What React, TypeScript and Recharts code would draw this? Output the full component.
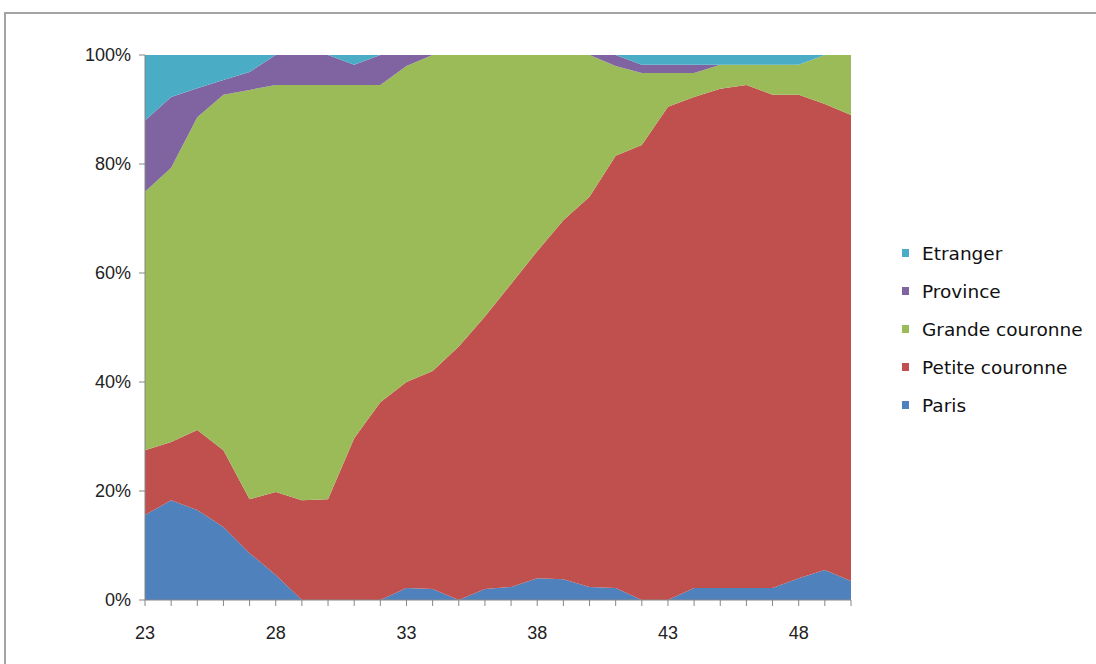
import { AreaChart, Area, XAxis, YAxis, Legend } from 'recharts';

// age (years) on the x axis
const ages = [23, 24, 25, 26, 27, 28, 29, 30, 31, 32, 33, 34, 35, 36, 37, 38, 39, 40, 41, 42, 43, 44, 45, 46, 47, 48, 49, 50];
const labeledAges = [23, 28, 33, 38, 43, 48];
const yTicks = [0, 0.2, 0.4, 0.6, 0.8, 1];

// shares in %, bottom to top
const paris = [15.6, 18.3, 16.5, 13.4, 8.6, 4.6, 0, 0, 0, 0, 2.2, 2, 0, 2, 2.4, 4, 3.8, 2.4, 2.2, 0, 0, 2.2, 2.2, 2.2, 2.2, 4, 5.5, 3.5];
const petiteCouronne = [11.9, 10.7, 14.7, 14.1, 9.9, 15.2, 18.3, 18.5, 29.7, 36.3, 37.8, 40, 46.5, 50, 55.6, 60, 65.9, 71.6, 79.3, 83.5, 90.5, 90.1, 91.6, 92.3, 90.5, 88.7, 85.5, 85.5];
const grandeCouronne = [47.4, 50.3, 57.4, 65.2, 75.1, 74.7, 76.2, 76, 64.8, 58.2, 58, 58, 53.5, 48, 42, 36, 30.3, 26, 16.5, 13.2, 6.2, 4.4, 4.4, 3.7, 5.5, 5.5, 9, 11];
const province = [13.1, 13, 5.3, 2.7, 3.3, 5.5, 5.5, 5.5, 3.7, 5.5, 2, 0, 0, 0, 0, 0, 0, 0, 2, 1.5, 1.5, 1.5, 0, 0, 0, 0, 0, 0];
const etranger = [12, 7.7, 6.1, 4.6, 3.1, 0, 0, 0, 1.8, 0, 0, 0, 0, 0, 0, 0, 0, 0, 0, 1.8, 1.8, 1.8, 1.8, 1.8, 1.8, 1.8, 0, 0];

const series = [
  { key: 'Paris', color: '#4f81bd' },
  { key: 'Petite couronne', color: '#c0504d' },
  { key: 'Grande couronne', color: '#9bbb59' },
  { key: 'Province', color: '#8064a2' },
  { key: 'Etranger', color: '#4bacc6' },
];

const data = ages.map((age, i) => ({
  age,
  Paris: paris[i],
  'Petite couronne': petiteCouronne[i],
  'Grande couronne': grandeCouronne[i],
  Province: province[i],
  Etranger: etranger[i],
}));

const axisColor = '#868686';
const font = '"Liberation Sans", Arial, sans-serif';

function AgeTick(props: any) {
  const { x, y, payload } = props;
  if (!labeledAges.includes(payload.value)) return null;
  return (
    <text x={x} y={y} dy={31} textAnchor="middle" fill="#222" fontSize={18} fontFamily={font}>
      {payload.value}
    </text>
  );
}

function LegendBox() {
  // Excel lists the legend top-down in reverse stacking order
  const items = [...series].reverse();
  return (
    <div style={{ fontFamily: '"DejaVu Sans", sans-serif', fontSize: 18.5, color: '#111' }}>
      {items.map((s) => (
        <div key={s.key} style={{ display: 'flex', alignItems: 'center', height: 38 }}>
          <span style={{ width: 7, height: 8, backgroundColor: s.color, display: 'inline-block', marginRight: 13 }} />
          <span>{s.key}</span>
        </div>
      ))}
    </div>
  );
}

export default function App() {
  return (
    <div style={{ position: 'absolute', left: 0, top: 0, width: 1096, height: 664, overflow: 'hidden', background: '#fff' }}>
      {/* chart frame, runs off the right and bottom edge */}
      <div
        style={{
          position: 'absolute',
          left: 4,
          top: 12,
          width: 1200,
          height: 800,
          border: '2px solid #a3a3a3',
        }}
      />
      <div style={{ position: 'absolute', left: 0, top: 0 }}>
        <AreaChart
          width={1096}
          height={664}
          data={data}
          stackOffset="expand"
          margin={{ top: 55, right: 245, left: 85, bottom: 24 }}
        >
          <XAxis
            dataKey="age"
            type="number"
            domain={[23, 50]}
            ticks={ages}
            interval={0}
            tick={<AgeTick />}
            tickSize={6}
            tickMargin={2}
            height={40}
            stroke={axisColor}
            axisLine={{ stroke: axisColor }}
            tickLine={{ stroke: axisColor }}
          />
          <YAxis
            domain={[0, 1]}
            ticks={yTicks}
            width={60}
            tickSize={6}
            tickMargin={8}
            tickFormatter={(v: number) => `${Math.round(v * 100)}%`}
            tick={{ fill: '#222', fontSize: 18, fontFamily: font }}
            axisLine={{ stroke: axisColor }}
            tickLine={{ stroke: axisColor }}
          />
          <Legend
            layout="vertical"
            align="center"
            verticalAlign="middle"
            content={<LegendBox />}
            wrapperStyle={{ left: 902, top: 234, width: 192 }}
          />
          {series.map((s) => (
            <Area
              key={s.key}
              type="linear"
              dataKey={s.key}
              stackId="1"
              stroke="none"
              fill={s.color}
              fillOpacity={1}
              dot={false}
              activeDot={false}
              isAnimationActive={false}
            />
          ))}
        </AreaChart>
      </div>
    </div>
  );
}
